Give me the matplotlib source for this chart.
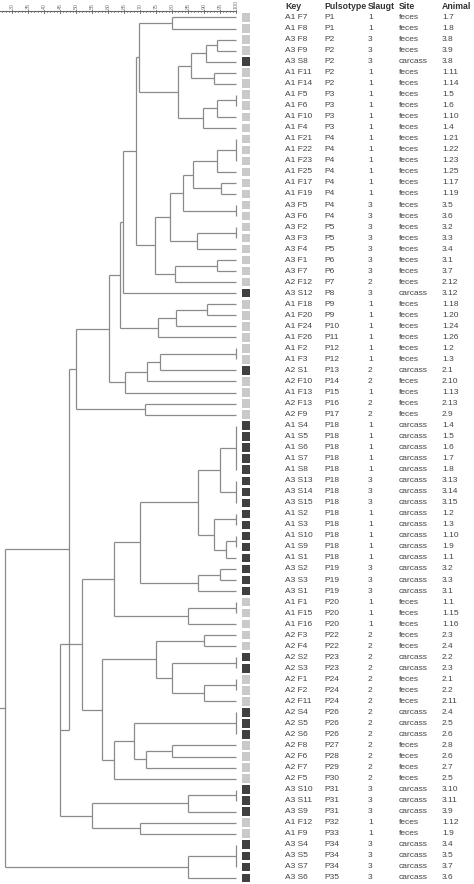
import matplotlib.pyplot as plt
from matplotlib.patches import Rectangle

plt.rcParams['font.family'] = ['Liberation Sans', 'DejaVu Sans']

keys = ["A1 F7", "A1 F8", "A3 F8", "A3 F9", "A3 S8", "A1 F11", "A1 F14", "A1 F5", "A1 F6",
        "A1 F10", "A1 F4", "A1 F21", "A1 F22", "A1 F23", "A1 F25", "A1 F17", "A1 F19",
        "A3 F5", "A3 F6", "A3 F2", "A3 F3", "A3 F4", "A3 F1", "A3 F7", "A2 F12", "A3 S12",
        "A1 F18", "A1 F20", "A1 F24", "A1 F26", "A1 F2", "A1 F3", "A2 S1", "A2 F10",
        "A1 F13", "A2 F13", "A2 F9", "A1 S4", "A1 S5", "A1 S6", "A1 S7", "A1 S8", "A3 S13",
        "A3 S14", "A3 S15", "A1 S2", "A1 S3", "A1 S10", "A1 S9", "A1 S1", "A3 S2", "A3 S3",
        "A3 S1", "A1 F1", "A1 F15", "A1 F16", "A2 F3", "A2 F4", "A2 S2", "A2 S3", "A2 F1",
        "A2 F2", "A2 F11", "A2 S4", "A2 S5", "A2 S6", "A2 F8", "A2 F6", "A2 F7", "A2 F5",
        "A3 S10", "A3 S11", "A3 S9", "A1 F12", "A1 F9", "A3 S4", "A3 S5", "A3 S7", "A3 S6"]
pulsotypes = ["P1", "P1", "P2", "P2", "P2", "P2", "P2", "P3", "P3", "P3", "P3", "P4", "P4",
              "P4", "P4", "P4", "P4", "P4", "P4", "P5", "P5", "P5", "P6", "P6", "P7", "P8",
              "P9", "P9", "P10", "P11", "P12", "P12", "P13", "P14", "P15", "P16", "P17",
              "P18", "P18", "P18", "P18", "P18", "P18", "P18", "P18", "P18", "P18", "P18",
              "P18", "P18", "P19", "P19", "P19", "P20", "P20", "P20", "P22", "P22", "P23",
              "P23", "P24", "P24", "P24", "P26", "P26", "P26", "P27", "P28", "P29", "P30",
              "P31", "P31", "P31", "P32", "P33", "P34", "P34", "P34", "P35"]
slaugt = ["1", "1", "3", "3", "3", "1", "1", "1", "1", "1", "1", "1", "1", "1", "1", "1", "1",
          "3", "3", "3", "3", "3", "3", "3", "2", "3", "1", "1", "1", "1", "1", "1", "2", "2",
          "1", "2", "2", "1", "1", "1", "1", "1", "3", "3", "3", "1", "1", "1", "1", "1", "3",
          "3", "3", "1", "1", "1", "2", "2", "2", "2", "2", "2", "2", "2", "2", "2", "2", "2",
          "2", "2", "3", "3", "3", "1", "1", "3", "3", "3", "3"]
sites = ["feces"] * 4 + ["carcass"] + ["feces"] * 20 + ["carcass"] + ["feces"] * 6 + \
        ["carcass"] + ["feces"] * 4 + ["carcass"] * 16 + ["feces"] * 5 + ["carcass"] * 2 + \
        ["feces"] * 3 + ["carcass"] * 3 + ["feces"] * 4 + ["carcass"] * 3 + ["feces"] * 2 + \
        ["carcass"] * 4
animals = ["1.7", "1.8", "3.8", "3.9", "3.8", "1.11", "1.14", "1.5", "1.6", "1.10", "1.4",
           "1.21", "1.22", "1.23", "1.25", "1.17", "1.19", "3.5", "3.6", "3.2", "3.3", "3.4",
           "3.1", "3.7", "2.12", "3.12", "1.18", "1.20", "1.24", "1.26", "1.2", "1.3", "2.1",
           "2.10", "1.13", "2.13", "2.9", "1.4", "1.5", "1.6", "1.7", "1.8", "3.13", "3.14",
           "3.15", "1.2", "1.3", "1.10", "1.9", "1.1", "3.2", "3.3", "3.1", "1.1", "1.15",
           "1.16", "2.3", "2.4", "2.2", "2.3", "2.1", "2.2", "2.11", "2.4", "2.5", "2.6",
           "2.8", "2.6", "2.7", "2.5", "3.10", "3.11", "3.9", "1.12", "1.9", "3.4", "3.5",
           "3.7", "3.6"]

# dendrogram merges: (node, similarity %, members) ; members = row numbers (1-based) or nodes
merges = [
    ("a", 80.0, [1, 2]),
    ("b0", 94.0, [3, 4]), ("b1", 90.6, ["b0", 5]), ("b2", 93.0, [6, 7]),
    ("b", 86.0, ["b1", "b2"]),
    ("c0", 100.0, [8, 9]), ("c1", 94.0, ["c0", 10]), ("c", 89.7, ["c1", 11]),
    ("d", 82.0, ["b", "c"]),
    ("e", 69.7, ["a", "d"]),
    ("f0", 100.0, [12, 13, 14]), ("f1", 94.0, ["f0", 15]), ("f2", 95.2, [16, 17]),
    ("f", 86.6, ["f1", "f2"]),
    ("g0", 100.0, [18, 19]), ("g", 83.5, ["f", "g0"]),
    ("h0", 100.0, [20, 21]), ("h", 87.7, ["h0", 22]),
    ("i", 79.4, ["g", "h"]),
    ("j0", 94.0, [23, 24]), ("j", 81.0, ["j0", 25]),
    ("k", 74.7, ["i", "j"]),
    ("l", 68.7, ["e", "k"]),
    ("m", 64.8, ["l", 26]),
    ("n0", 90.8, [27, 28]), ("n1", 81.3, ["n0", 29]), ("n", 75.6, ["n1", 30]),
    ("o", 63.9, ["m", "n"]),
    ("p0", 100.0, [31, 32]), ("p1", 76.25, ["p0", 33]), ("p2", 72.1, ["p1", 34]),
    ("p", 65.3, ["p2", 35]),
    ("q", 60.4, ["o", "p"]),
    ("r0", 71.6, [36, 37]), ("r", 50.1, ["q", "r0"]),
    ("s0", 100.0, [38, 39, 40, 41, 42]), ("s1", 100.0, [43, 44, 45]),
    ("s2", 95.0, ["s0", "s1"]), ("s3", 100.0, [46, 47]), ("s4", 100.0, [48, 49]),
    ("s5", 97.0, ["s4", 50]), ("s6", 93.0, ["s3", "s5"]), ("s", 88.0, ["s2", "s6"]),
    ("t0", 95.0, [51, 52]), ("t1", 88.0, ["t0", 53]), ("t", 70.0, ["s", "t1"]),
    ("u0", 100.0, [54, 55]), ("u1", 85.0, ["u0", 56]), ("u", 62.0, ["t", "u1"]),
    ("v0", 90.0, [57, 58]), ("v1", 100.0, [59, 60]), ("v2", 100.0, [61, 62]),
    ("v3", 90.0, ["v2", 63]), ("v4", 80.0, ["v1", "v3"]), ("v5", 75.0, ["v0", "v4"]),
    ("v6", 100.0, [64, 65, 66]), ("v7", 80.0, [67, 68]), ("v8", 72.0, ["v7", 69]),
    ("v9", 68.0, ["v6", "v8"]), ("v10", 62.0, ["v9", 70]), ("v", 58.0, ["v5", "v10"]),
    ("w", 52.0, ["u", "v"]),
    ("x0", 100.0, [71, 72]), ("x1", 85.0, ["x0", 73]), ("x2", 70.0, [74, 75]),
    ("x", 55.0, ["x1", "x2"]),
    ("y", 45.0, ["w", "x"]),
    ("z", 47.9, ["r", "y"]),
    ("z0", 100.0, [76, 77, 78]), ("z1", 85.0, ["z0", 79]),
    ("root", 27.8, ["z", "z1"]),
]

W, H = 474, 884
row_step = 11.03
row0 = 17.5
px_per_pct = 3.2
x_left = 30 - 12 / px_per_pct          # similarity value at the left edge
x_right = x_left + W / px_per_pct
line_col = "#8a8a8a"

fig = plt.figure(figsize=(W / 100, H / 100), dpi=100)
ax = fig.add_axes([0, 0, 1, 1])
ax.set_xlim(x_left, x_right)
ax.set_ylim((H - row0) / row_step, -row0 / row_step)
ax.axis("off")

pos = {}
for i in range(len(keys)):
    pos[i + 1] = (100.0, float(i))
for name, sim, members in merges:
    ys = [pos[m][1] for m in members]
    for m in members:
        mx, my = pos[m]
        ax.plot([sim, mx], [my, my], color=line_col, lw=0.9, solid_capstyle="butt")
    ax.plot([sim, sim], [min(ys), max(ys)], color=line_col, lw=0.9, solid_capstyle="butt")
    pos[name] = (sim, (min(ys) + max(ys)) / 2)
rx, ry = pos["root"]
ax.plot([x_left, rx], [ry, ry], color=line_col, lw=0.9)

# scale bar
scale_y = (11.5 - row0) / row_step
ax.plot([x_left, 100], [scale_y, scale_y], color="#666666", lw=0.8)
for v in range(27, 101):
    ax.plot([v, v], [scale_y - 0.06, scale_y + 0.06], color="#666666", lw=0.5)
for v in range(30, 101, 5):
    ax.plot([v, v], [scale_y - 0.15, scale_y + 0.15], color="#666666", lw=0.6)
    ax.text(v, scale_y - 0.22, str(v), rotation=90, ha="center", va="bottom",
            fontsize=3.8, color="#777777")

# site squares and table text
tr = ax.get_yaxis_transform()
sq = 8.5
for i, s in enumerate(sites):
    col = "#c9c9c9" if s == "feces" else "#404040"
    ax.add_patch(Rectangle((242 / W, i - sq / 2 / row_step), sq / W, sq / row_step,
                           transform=tr, facecolor=col, edgecolor="none"))

cols_x = [285, 324, 368, 399, 442]
headers = ["Key", "Pulsotype", "Slaugt", "Site", "Animal"]
head_y = (6.5 - row0) / row_step
for x, h in zip(cols_x, headers):
    ax.text(x / W, head_y, h, transform=tr, fontsize=6.3, fontweight="bold",
            color="#333333", va="center", ha="left")
for i in range(len(keys)):
    for x, val in zip(cols_x, [keys[i], pulsotypes[i], slaugt[i], sites[i], animals[i]]):
        ax.text(x / W, i, val, transform=tr, fontsize=6.0, color="#444444",
                va="center", ha="left")

fig.savefig("out.png", dpi=100)
